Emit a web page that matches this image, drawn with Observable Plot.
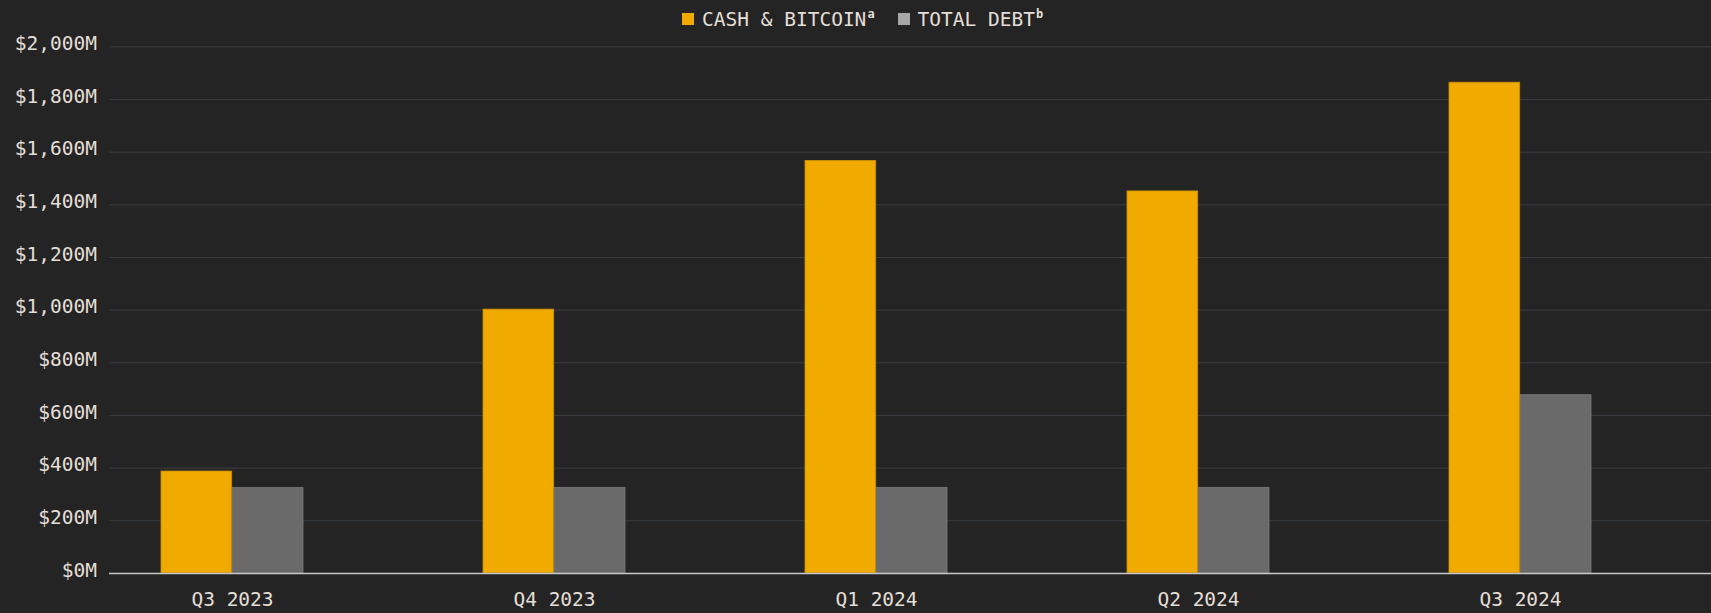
<!DOCTYPE html>
<html>
<head>
<meta charset="utf-8">
<script src="https://cdn.jsdelivr.net/npm/d3@7"></script>
<script src="https://cdn.jsdelivr.net/npm/@observablehq/plot@0.6"></script>
<style>
  html, body { margin: 0; padding: 0; background: #252425; }
  body { width: 1711px; height: 613px; overflow: hidden; font-family: "DejaVu Sans Mono", "Liberation Mono", monospace; color: #e4dfd6; }
  #legend { height: 30px; display: flex; align-items: center; padding-left: 682px; box-sizing: border-box; padding-top: 8px; font-size: 19.5px; }
  .item { display: flex; align-items: center; white-space: pre; }
  .sw { width: 12px; height: 12px; margin-right: 8px; }
  sup { font-size: 12px; font-weight: bold; vertical-align: 0; position: relative; top: -5px; margin-left: 1px; }
  #chart svg { display: block; overflow: visible; }
</style>
</head>
<body>
<div id="legend"></div>
<div id="chart"></div>
<script>
const quarters = ["Q3 2023", "Q4 2023", "Q1 2024", "Q2 2024", "Q3 2024"];
const cashBitcoin = [387, 1002, 1567, 1451, 1864];
const totalDebt = [324, 325, 325, 325, 677];
const seriesNames = ["CASH & BITCOIN", "TOTAL DEBT"];
const seriesNotes = ["a", "b"];
const seriesColors = ["#f0aa00", "#6b6a6b"];
const legendColors = ["#f0aa00", "#a7a7a7"];
const yTicks = [0, 200, 400, 600, 800, 1000, 1200, 1400, 1600, 1800, 2000];

// legend
const legend = document.getElementById("legend");
seriesNames.forEach((name, i) => {
  const item = document.createElement("div");
  item.className = "item";
  item.style.marginRight = i === 0 ? "23px" : "0";
  const sw = document.createElement("span");
  sw.className = "sw";
  sw.style.background = legendColors[i];
  const label = document.createElement("span");
  label.textContent = name;
  const sup = document.createElement("sup");
  sup.textContent = seriesNotes[i];
  item.append(sw, label, sup);
  legend.append(item);
});

const cashData = quarters.map((q, i) => ({quarter: q, value: cashBitcoin[i]}));
const debtData = quarters.map((q, i) => ({quarter: q, value: totalDebt[i]}));

const xRange = [69, 1682];
const band = (xRange[1] - xRange[0]) / quarters.length;
const barW = 71.3;
const gap = band / 2 - barW;

const chart = Plot.plot({
  width: 1711,
  height: 583,
  marginLeft: 109,
  marginRight: 0,
  marginTop: 16.4,
  marginBottom: 40.1,
  style: {background: "#252425", color: "#e4dfd6", fontFamily: "'DejaVu Sans Mono', 'Liberation Mono', monospace", fontSize: "19.5px", overflow: "visible"},
  x: {domain: quarters, range: xRange, padding: 0},
  y: {domain: [0, 2000]},
  marks: [
    Plot.gridY(yTicks, {stroke: "#3a3e40", strokeOpacity: 1, strokeWidth: 1}),
    Plot.barY(cashData, {x: "quarter", y: "value", fill: seriesColors[0], stroke: "#c99000", strokeWidth: 0.8, insetLeft: gap, insetRight: band / 2}),
    Plot.barY(debtData, {x: "quarter", y: "value", fill: seriesColors[1], stroke: "#7a797a", strokeWidth: 0.8, insetLeft: band / 2, insetRight: gap}),
    Plot.ruleY([0], {stroke: "#c8c8c8", strokeWidth: 1.5}),
    Plot.axisY(yTicks, {tickSize: 0, tickPadding: 12.5, dy: -3, tickFormat: d => "$" + d3.format(",")(d) + "M", fontSize: 19.5, fill: "#e4dfd6", label: null}),
    Plot.axisX({tickSize: 0, tickPadding: 19, fontSize: 19.5, fill: "#e4dfd6", label: null})
  ]
});
document.getElementById("chart").append(chart);
</script>
</body>
</html>
